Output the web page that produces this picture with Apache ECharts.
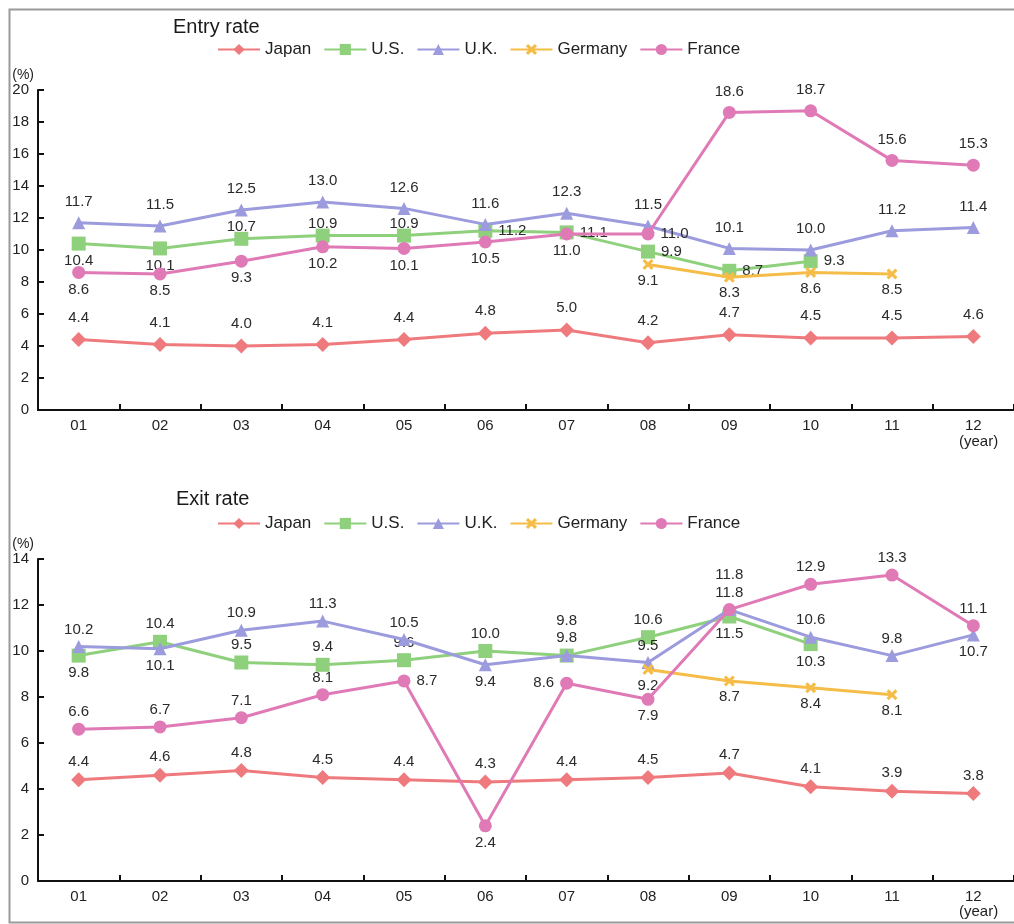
<!DOCTYPE html>
<html>
<head>
<meta charset="utf-8">
<script src="https://cdn.jsdelivr.net/npm/echarts@6/dist/echarts.min.js"></script>
<style>
html,body{margin:0;padding:0;background:#fff}
#main{width:1014px;height:924px}
</style>
</head>
<body>
<div id="main"></div>
<script>
var years = ['01','02','03','04','05','06','07','08','09','10','11','12'];
var countries = ['Japan','U.S.','U.K.','Germany','France'];
var colors = ['#ef7a7e','#8fd07d','#9b9bdd','#f5bd47','#e07ab6'];
var xMark = 'path://M0,2 L2,0 L5,3 L8,0 L10,2 L7,5 L10,8 L8,10 L5,7 L2,10 L0,8 L3,5 Z';
var symbols = ['diamond','rect','triangle',xMark,'circle'];
var symbolSizes = [15,14,13,11,13];

// Entry rate (%)
var entryJapan   = [4.4,4.1,4.0,4.1,4.4,4.8,5.0,4.2,4.7,4.5,4.5,4.6];
var entryUS      = [10.4,10.1,10.7,10.9,10.9,11.2,11.1,9.9,8.7,9.3,null,null];
var entryUK      = [11.7,11.5,12.5,13.0,12.6,11.6,12.3,11.5,10.1,10.0,11.2,11.4];
var entryGermany = [null,null,null,null,null,null,null,9.1,8.3,8.6,8.5,null];
var entryFrance  = [8.6,8.5,9.3,10.2,10.1,10.5,11.0,11.0,18.6,18.7,15.6,15.3];

// Exit rate (%)
var exitJapan   = [4.4,4.6,4.8,4.5,4.4,4.3,4.4,4.5,4.7,4.1,3.9,3.8];
var exitUS      = [9.8,10.4,9.5,9.4,9.6,10.0,9.8,10.6,11.5,10.3,null,null];
var exitUK      = [10.2,10.1,10.9,11.3,10.5,9.4,9.8,9.5,11.8,10.6,9.8,10.7];
var exitGermany = [null,null,null,null,null,null,null,9.2,8.7,8.4,8.1,null];
var exitFrance  = [6.6,6.7,7.1,8.1,8.7,2.4,8.6,7.9,11.8,12.9,13.3,11.1];

// label placement: t = top, u = top (tight), T = top (second line), b = bottom, r = right, l = left
var entryPos = [
  ['t','t','t','t','t','t','t','t','t','t','t','t'],
  ['b','b','u','u','u','r','r','r','r','r','t','t'],
  ['t','t','t','t','t','t','t','t','t','t','t','t'],
  ['b','b','b','b','b','b','b','b','b','b','b','b'],
  ['b','b','b','b','b','b','b','r','t','t','t','t']
];
var exitPos = [
  ['t','t','t','t','t','t','t','t','t','t','t','t'],
  ['b','t','t','t','t','t','t','t','b','b','t','t'],
  ['t','b','t','t','t','b','T','t','T','t','t','b'],
  ['b','b','b','b','b','b','b','b','b','b','b','b'],
  ['t','t','t','t','r','b','l','b','t','t','t','t']
];

var font = '"Liberation Sans", Arial, sans-serif';

function points(values, pos, gap) {
  return values.map(function (v, i) {
    if (v == null) return '-';
    var p = pos[i];
    var lab = {position: {t:'top',u:'top',T:'top',b:'bottom',r:'right',l:'left'}[p], distance: gap};
    if (p === 'u') lab.distance = -3;
    if (p === 'T') lab.distance = gap + 18;
    if (p === 'b') lab.distance = 3;
    if (p === 'r' || p === 'l') lab.distance = 6;
    return {value: v, label: lab};
  });
}

function makeSeries(idx, sets, posSets, gap) {
  return countries.map(function (name, c) {
    return {
      name: name,
      type: 'line',
      xAxisIndex: idx,
      yAxisIndex: idx,
      data: points(sets[c], posSets[c], gap),
      symbol: symbols[c],
      symbolSize: symbolSizes[c],
      color: colors[c],
      lineStyle: {width: 3, color: colors[c]},
      itemStyle: {color: colors[c]},
      label: {
        show: true,
        color: '#2a2a2a',
        fontSize: 15,
        fontFamily: font,
        formatter: function (p) { return p.value.toFixed(1); }
      },
      connectNulls: false,
      animation: false,
      z: 2 + c
    };
  });
}

var axisLine = {show: true, onZero: false, lineStyle: {color: '#111', width: 2}};

function xAxis(idx) {
  return {
    type: 'category',
    gridIndex: idx,
    data: years,
    boundaryGap: true,
    axisLine: axisLine,
    axisTick: {show: true, inside: true, length: 6, lineStyle: {color: '#111', width: 2}},
    axisLabel: {color: '#222', fontSize: 15, fontFamily: font, margin: 8}
  };
}

function yAxis(idx, max) {
  return {
    type: 'value',
    gridIndex: idx,
    min: 0,
    max: max,
    interval: 2,
    name: '(%)',
    nameLocation: 'end',
    nameGap: 6,
    nameTextStyle: {color: '#222', fontSize: 14, fontFamily: font, align: 'right', padding: [0, 4, 0, 0]},
    axisLine: axisLine,
    axisTick: {show: true, inside: true, length: 6, lineStyle: {color: '#111', width: 2}},
    splitLine: {show: false},
    axisLabel: {color: '#222', fontSize: 15, fontFamily: font, margin: 9}
  };
}

function legend(top) {
  return {
    top: top,
    left: 212,
    itemWidth: 42,
    itemHeight: 14,
    itemGap: 12,
    data: countries,
    textStyle: {color: '#222', fontSize: 17, fontFamily: font}
  };
}

var chart = echarts.init(document.getElementById('main'), null, {renderer: 'canvas'});
chart.setOption({
  backgroundColor: '#fff',
  animation: false,
  title: [
    {text: 'Entry rate', left: 168, top: 12, textStyle: {color: '#1a1a1a', fontSize: 20, fontWeight: 'normal', fontFamily: font}},
    {text: 'Exit rate', left: 171, top: 484, textStyle: {color: '#1a1a1a', fontSize: 20, fontWeight: 'normal', fontFamily: font}}
  ],
  legend: [legend(36), legend(510)],
  grid: [
    {left: 38, right: -4, top: 90, height: 320},
    {left: 38, right: -4, top: 559, height: 322}
  ],
  xAxis: [xAxis(0), xAxis(1)],
  yAxis: [yAxis(0, 20), yAxis(1, 14)],
  series: makeSeries(0, [entryJapan, entryUS, entryUK, entryGermany, entryFrance], entryPos, 7)
    .concat(makeSeries(1, [exitJapan, exitUS, exitUK, exitGermany, exitFrance], exitPos, 3)),
  graphic: [
    {type: 'rect', left: 7, top: 7, shape: {width: 1020, height: 913}, style: {fill: null, stroke: '#9a9a9a', lineWidth: 2}, silent: true},
    {type: 'text', left: 959, top: 434, style: {text: '(year)', fill: '#222', font: '15px ' + font}},
    {type: 'text', left: 959, top: 904, style: {text: '(year)', fill: '#222', font: '15px ' + font}}
  ]
});
</script>
</body>
</html>
